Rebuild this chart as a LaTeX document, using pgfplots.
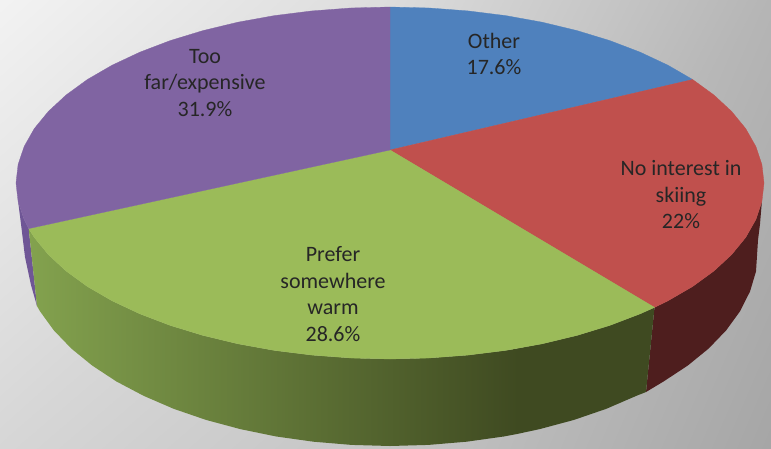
\documentclass[border=0pt]{standalone}
\usepackage{pgfplots}
\pgfplotsset{compat=1.18}
\usepackage{fontspec}
\setmainfont{Carlito}
\definecolor{cblue}{HTML}{4F81BD}
\definecolor{cred}{HTML}{C0504D}
\definecolor{cgreen}{HTML}{9BBB59}
\definecolor{cpurple}{HTML}{8064A2}
\definecolor{wred}{HTML}{4E1E1E}
\definecolor{wpurple}{HTML}{6F5696}
\definecolor{wgl}{HTML}{83A24E}
\definecolor{wgr}{HTML}{3F4A21}
\begin{document}
\begin{tikzpicture}
\begin{axis}[
  scale only axis, width=771pt, height=448pt,
  xmin=0, xmax=771, ymin=0, ymax=448, y dir=reverse,
  hide axis, clip=true,
  colormap={bggray}{gray(0cm)=(0); gray(1cm)=(1)},
  point meta min=0, point meta max=1,
  every axis plot/.append style={mark=none, line join=round}
]
% background
\addplot[patch, patch type=rectangle, shader=interp, point meta=explicit] coordinates {
  (0,0) [0.95] (386,0) [0.865] (386,448) [0.77] (0,448) [0.84]
  (386,0) [0.865] (771,0) [0.71] (771,448) [0.65] (386,448) [0.77]
};
% purple wall
\addplot[draw=none, fill=wpurple] coordinates {(18.1,201.4) (21,224) (25,257) (31,285) (37,306) (28.7,228.6) (24.2,219.6) (18.1,201.4)};
% red wall
\addplot[draw=none, fill=wred] coordinates {(654.5,307.4) (646,392) (663.5,381.5) (687.7,365.6) (708.7,348.5) (726.2,330.3) (740,311.3) (750,291.5) (756,271.4) (758,240) (760,224) (761.9,201.4) (755.8,219.6) (745.7,237.4) (731.6,254.6) (713.9,271) (692.6,286.5) (667.9,300.8) (654.5,307.4)};
% green wall, flat part
\addplot[draw=none, fill=wgr] coordinates {(654.5,307.4) (646,392) (636.2,395.9) (606.3,408.8) (574,419.9) (539.7,429.1) (517,434) (517,348.4) (542.1,343.8) (577,335.4) (609.8,325.4) (640.2,313.8) (654.5,307.4)};
% green wall, shaded part
\addplot[draw=none, left color=wgl, right color=wgr] coordinates {(28.7,228.6) (37,306) (40,311.3) (53.8,330.3) (71.3,348.5) (92.3,365.6) (116.5,381.5) (143.8,395.9) (173.7,408.8) (206,419.9) (240.3,429.1) (276.3,436.5) (313.5,441.7) (351.5,444.9) (390,446) (428.5,444.9) (466.5,441.7) (503.7,436.5) (518,433.8) (518,348.4) (505.6,350.4) (467.8,355.1) (429.1,358) (390,359) (350.9,358) (312.2,355.1) (274.4,350.4) (237.9,343.8) (203,335.4) (170.2,325.4) (139.8,313.8) (112.1,300.8) (87.4,286.5) (66.1,271) (48.4,254.6) (34.3,237.4) (28.7,228.6)};
% top: blue
\addplot[draw=cblue, line width=0.3pt, fill=cblue] coordinates {(390,150) (390,7) (429.1,8) (467.8,10.9) (505.6,15.6) (542.1,22.2) (577,30.6) (609.8,40.6) (640.2,52.2) (667.9,65.2) (692.6,79.5) (390,150)};
% top: red
\addplot[draw=cred, line width=0.3pt, fill=cred] coordinates {(390,150) (692.6,79.5) (713.9,95) (731.6,111.4) (745.7,128.6) (755.8,146.4) (761.9,164.6) (764,183) (761.9,201.4) (755.8,219.6) (745.7,237.4) (731.6,254.6) (713.9,271) (692.6,286.5) (667.9,300.8) (654.5,307.4) (390,150)};
% top: green
\addplot[draw=cgreen, line width=0.3pt, fill=cgreen] coordinates {(390,150) (654.5,307.4) (640.2,313.8) (609.8,325.4) (577,335.4) (542.1,343.8) (505.6,350.4) (467.8,355.1) (429.1,358) (390,359) (350.9,358) (312.2,355.1) (274.4,350.4) (237.9,343.8) (203,335.4) (170.2,325.4) (139.8,313.8) (112.1,300.8) (87.4,286.5) (66.1,271) (48.4,254.6) (34.3,237.4) (28.7,228.6) (390,150)};
% top: purple
\addplot[draw=cpurple, line width=0.3pt, fill=cpurple] coordinates {(390,150) (28.7,228.6) (24.2,219.6) (18.1,201.4) (16,183) (18.1,164.6) (24.2,146.4) (34.3,128.6) (48.4,111.4) (66.1,95) (87.4,79.5) (112.1,65.2) (139.8,52.2) (170.2,40.6) (203,30.6) (237.9,22.2) (274.4,15.6) (312.2,10.9) (350.9,8) (390,7) (390,150)};
\node[align=center, font=\fontsize{22}{26.5}\selectfont, text=black!85] at (axis cs:205,83) {Too\\far/expensive\\31.9\%};
\node[align=center, font=\fontsize{22}{26.5}\selectfont, text=black!85] at (axis cs:494,54) {Other\\17.6\%};
\node[align=center, font=\fontsize{22}{26.5}\selectfont, text=black!85] at (axis cs:681,195) {No interest in\\skiing\\22\%};
\node[align=center, font=\fontsize{22}{26.5}\selectfont, text=black!85] at (axis cs:333,294) {Prefer\\somewhere\\warm\\28.6\%};
\end{axis}
\end{tikzpicture}
\end{document}
